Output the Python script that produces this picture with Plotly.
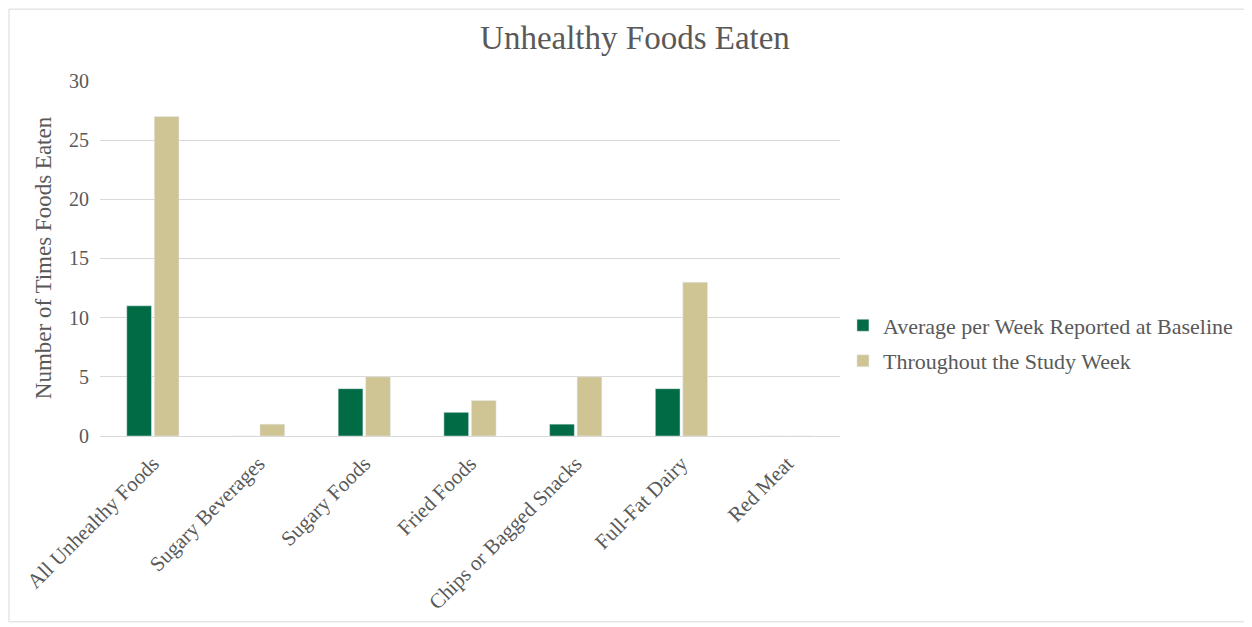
import plotly.graph_objects as go

categories = [
    "All Unhealthy Foods",
    "Sugary Beverages",
    "Sugary Foods",
    "Fried Foods",
    "Chips or Bagged Snacks",
    "Full-Fat Dairy",
    "Red Meat",
]
baseline = [11, 0, 4, 2, 1, 4, 0]
study_week = [27, 1, 5, 3, 5, 13, 0]

FONT = "Liberation Serif, DejaVu Serif, serif"
GREY = "#595959"

fig = go.Figure()
fig.add_trace(go.Bar(x=categories, y=baseline, name="Average per Week Reported at Baseline",
                     marker_color="#006B44", legendgroup="a"))
fig.add_trace(go.Bar(x=categories, y=study_week, name="Throughout the Study Week",
                     marker_color="#CFC594", legendgroup="b"))

# page body has an 8px margin, so the figure starts 8px in from the window corner
fig.update_layout(
    width=1244,
    height=619,
    margin=dict(l=92, r=412, t=72, b=191),
    paper_bgcolor="white",
    plot_bgcolor="white",
    font=dict(family=FONT, color=GREY, size=20),
    title=dict(text="Unhealthy Foods Eaten", x=0.504, xanchor="center", y=0.953, yanchor="middle",
               font=dict(size=33, color=GREY)),
    barmode="group",
    bargap=0.48,
    bargroupgap=0.1,
    legend=dict(x=1.004, y=0.26, xanchor="left", yanchor="middle", bgcolor="rgba(0,0,0,0)",
                font=dict(size=22, color=GREY), tracegroupgap=4),
)
fig.update_xaxes(tickangle=-45, showline=True, linecolor="#d9d9d9", linewidth=1,
                 ticks="", tickfont=dict(size=21), ticklabelstandoff=6)
fig.update_yaxes(range=[0, 30.08], dtick=5, showgrid=True, gridcolor="#d9d9d9", gridwidth=1,
                 zeroline=False, tickfont=dict(size=20), ticks="outside", ticklen=6,
                 tickcolor="white",
                 title=dict(text="Number of Times Foods Eaten", font=dict(size=23), standoff=10))

# light frame around the chart area
fig.add_shape(type="rect", xref="paper", yref="paper",
              x0=-0.123, x1=1.55, y0=-0.522, y1=1.199,
              line=dict(color="#d9d9d9", width=1), layer="below")

fig.write_html("out.html")
